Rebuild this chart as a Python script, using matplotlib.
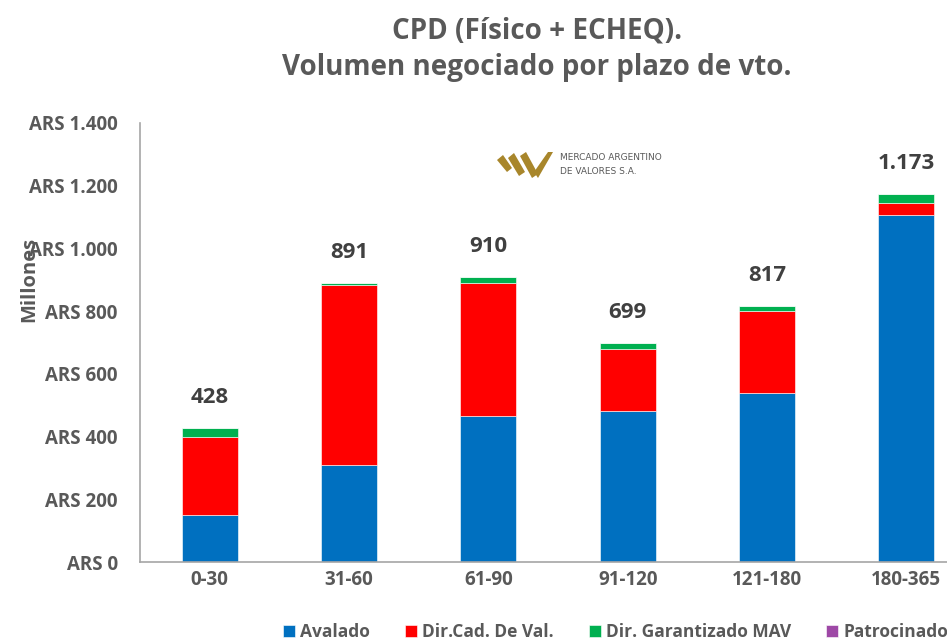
"""CPD (Fisico + ECHEQ) - volumen negociado por plazo de vencimiento"""

import numpy as np
import matplotlib.pyplot as plt
from matplotlib.patches import Polygon

plt.rcParams['font.family'] = ['Open Sans', 'DejaVu Sans']

# data (millones de ARS)
plazos = ['0-30', '31-60', '61-90', '91-120', '121-180', '180-365']
avalado = [150, 310, 466, 481, 539, 1106]
dir_cad = [250, 573, 424, 198, 261, 39]
dir_garantizado = [28, 8, 20, 20, 17, 28]
patrocinado = [0, 0, 0, 0, 0, 0]
totales = ['428', '891', '910', '699', '817', '1.173']
y_ticks = [0, 200, 400, 600, 800, 1000, 1200, 1400]
y_tick_labels = ['ARS 0', 'ARS 200', 'ARS 400', 'ARS 600', 'ARS 800',
                 'ARS 1.000', 'ARS 1.200', 'ARS 1.400']

series = [
    ('Avalado', avalado, '#0070C0'),
    ('Dir.Cad. De Val.', dir_cad, '#FF0000'),
    ('Dir. Garantizado MAV', dir_garantizado, '#00B050'),
    ('Patrocinado', patrocinado, '#9E48A6'),
]

gray = '#595959'
W, H = 947, 642
fig = plt.figure(figsize=(W / 100, H / 100), dpi=100)
# the original chart is clipped on the right, so the axes run past the figure
ax = fig.add_axes([140 / W, (H - 562) / H, 836 / W, 439 / H])

x = np.arange(len(plazos))
bottom = np.zeros(len(plazos))
handles = []
for name, vals, color in series:
    b = ax.bar(x, vals, width=0.4, bottom=bottom, color=color, label=name,
               edgecolor='white', linewidth=0.4)
    handles.append(b)
    bottom = bottom + np.array(vals)

for xi, top, txt in zip(x, bottom, totales):
    ax.annotate(txt, (xi, top), xytext=(0, 22), textcoords='offset points',
                ha='center', va='center', fontsize=16, fontweight='bold',
                color='#404040')

ax.set_xlim(-0.5, len(plazos) - 0.5)
ax.set_ylim(0, 1400)
ax.set_yticks(y_ticks)
ax.set_yticklabels(y_tick_labels)
ax.set_xticks(x)
ax.set_xticklabels(plazos)
ax.tick_params(length=0, colors=gray)
ax.tick_params(axis='x', labelsize=13.5, pad=6)
ax.tick_params(axis='y', labelsize=13.5, pad=16)
for lbl in ax.get_xticklabels() + ax.get_yticklabels():
    lbl.set_fontweight('bold')
for s in ['top', 'right']:
    ax.spines[s].set_visible(False)
for s in ['left', 'bottom']:
    ax.spines[s].set_color('#A6A6A6')
    ax.spines[s].set_linewidth(1.2)

fig.text(29 / W, 1 - 279 / H, 'Millones', rotation=90, ha='center', va='center',
         fontsize=14.5, fontweight='bold', color=gray)

fig.text(537 / W, 1 - 31 / H, 'CPD (Físico + ECHEQ).', ha='center', va='center',
         fontsize=20, fontweight='bold', color=gray)
fig.text(537 / W, 1 - 68 / H, 'Volumen negociado por plazo de vto.', ha='center',
         va='center', fontsize=20, fontweight='bold', color=gray)

# logo MAV
gold = '#A8862B'
logo = [
    [(497, 160), (503, 155), (512, 168), (507, 172)],
    [(508, 158), (514, 153), (525, 172), (519, 176)],
    [(520, 156), (526, 152), (538, 174), (532, 178)],
    [(534, 172), (548, 152), (553, 152), (538, 178)],
]
for pts in logo:
    fig.patches.append(Polygon([(px / W, 1 - py / H) for px, py in pts],
                               closed=True, transform=fig.transFigure,
                               color=gold, lw=0))
fig.text(560 / W, 1 - 158 / H, 'MERCADO ARGENTINO', fontsize=6.5, color=gray,
         va='center', family=['Liberation Sans Narrow', 'DejaVu Sans'])
fig.text(560 / W, 1 - 172 / H, 'DE VALORES S.A.', fontsize=6.5, color=gray,
         va='center', family=['Liberation Sans Narrow', 'DejaVu Sans'])

leg = fig.legend(handles=handles, loc='center left',
                 bbox_to_anchor=(276 / W, 1 - 632 / H), ncol=4, frameon=False,
                 fontsize=12.5, handlelength=0.7, handleheight=0.7,
                 handletextpad=0.3, columnspacing=2.0, borderaxespad=0)
for t in leg.get_texts():
    t.set_color(gray)
    t.set_fontweight('bold')

fig.savefig('out.png', dpi=100)
